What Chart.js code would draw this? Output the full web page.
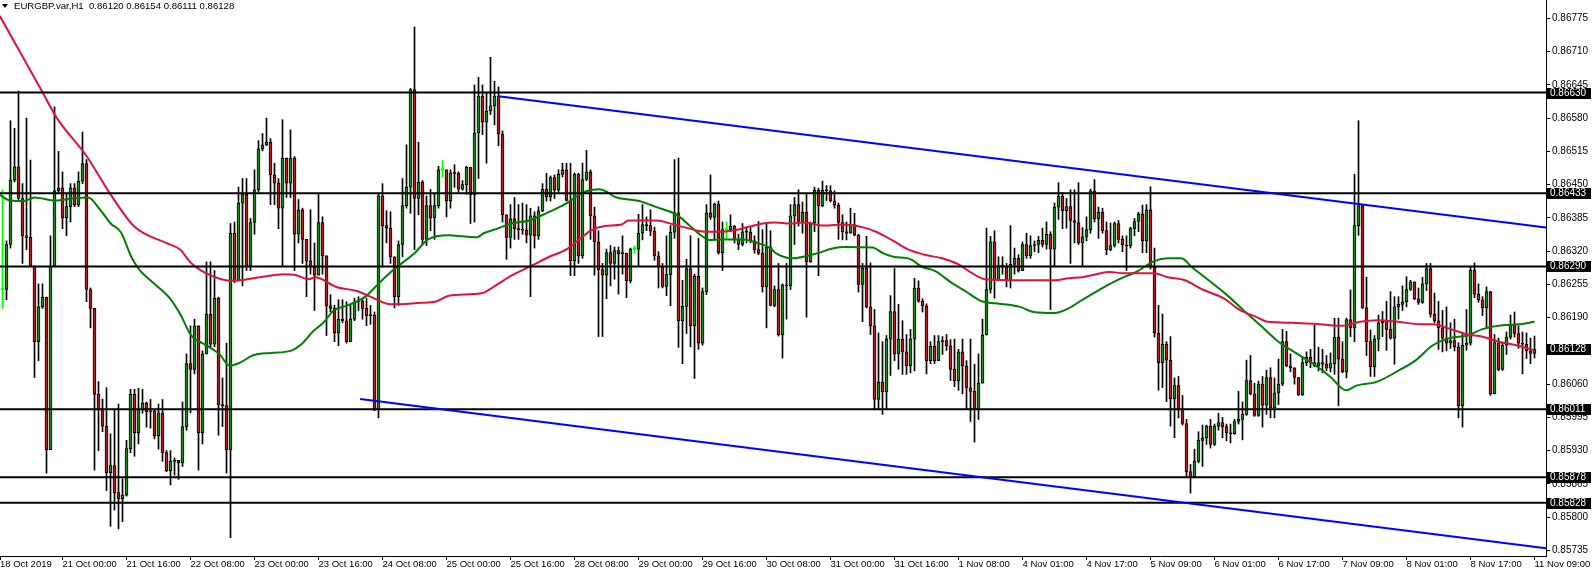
<!DOCTYPE html>
<html>
<head>
<meta charset="utf-8">
<script src="https://cdn.jsdelivr.net/npm/chart.js@4.4.1/dist/chart.umd.min.js"></script>
<style>
  html, body { margin: 0; padding: 0; background: #fff; }
  #wrap { position: relative; width: 1592px; height: 573px; }
  #tri { position: absolute; left: 2px; top: 4px; width: 0; height: 0;
         border-left: 3px solid transparent; border-right: 3px solid transparent; border-top: 4px solid #000; }
  #title { position: absolute; left: 14px; top: 0; font: 9.6px "Liberation Sans", Arial, sans-serif;
           color: #000; white-space: pre; line-height: 12px; }
</style>
</head>
<body>
<div id="wrap">
  <canvas id="chart" width="1592" height="573"></canvas>
  <div id="tri"></div>
  <div id="title">EURGBP.var,H1  0.86120 0.86154 0.86111 0.86128</div>
</div>
<script>
// H1 candles (open = previous close)
const firstOpen = 0.86245;
const closes = [
  0.86245,0.86333,0.86459,0.86485,0.86423,0.86350,0.86347,0.86291,0.86143,0.86211,
  0.86230,0.85932,0.86291,0.86438,0.86444,0.86385,0.86407,0.86444,0.86411,0.86457,
  0.86491,0.86245,0.86208,0.86040,0.86011,0.85978,0.85887,0.85901,0.85848,0.85836,
  0.85843,0.85934,0.86040,0.85965,0.86011,0.86023,0.86006,0.86008,0.85959,0.86004,
  0.85926,0.85891,0.85909,0.85911,0.85906,0.85977,0.86100,0.86089,0.86174,0.85965,
  0.86119,0.86197,0.86138,0.86228,0.86020,0.86018,0.85932,0.86355,0.86262,0.86414,
  0.86431,0.86289,0.86376,0.86440,0.86520,0.86528,0.86533,0.86469,0.86453,0.86404,
  0.86502,0.86453,0.86502,0.86353,0.86401,0.86343,0.86301,0.86289,0.86273,0.86376,
  0.86311,0.86213,0.86208,0.86160,0.86187,0.86184,0.86143,0.86187,0.86221,0.86222,
  0.86208,0.86194,0.86195,0.86011,0.86428,0.86370,0.86365,0.86309,0.86231,0.86333,
  0.86409,0.86445,0.86636,0.86423,0.86455,0.86343,0.86409,0.86385,0.86409,0.86479,
  0.86479,0.86418,0.86473,0.86472,0.86441,0.86450,0.86484,0.86430,0.86551,0.86623,
  0.86572,0.86594,0.86604,0.86623,0.86549,0.86391,0.86347,0.86383,0.86364,0.86362,
  0.86361,0.86351,0.86389,0.86350,0.86399,0.86441,0.86426,0.86464,0.86439,0.86470,
  0.86479,0.86419,0.86301,0.86470,0.86311,0.86460,0.86475,0.86389,0.86338,0.86284,
  0.86273,0.86317,0.86296,0.86321,0.86315,0.86316,0.86262,0.86324,0.86324,0.86355,
  0.86372,0.86370,0.86359,0.86311,0.86290,0.86251,0.86274,0.86357,0.86395,0.86184,
  0.86212,0.86286,0.86174,0.86271,0.86140,0.86241,0.86395,0.86386,0.86412,0.86317,
  0.86362,0.86362,0.86369,0.86343,0.86333,0.86358,0.86357,0.86340,0.86323,0.86316,
  0.86250,0.86328,0.86214,0.86245,0.86156,0.86254,0.86252,0.86389,0.86411,0.86378,
  0.86396,0.86299,0.86375,0.86439,0.86409,0.86439,0.86438,0.86418,0.86410,0.86376,
  0.86358,0.86355,0.86372,0.86351,0.86255,0.86287,0.86211,0.86174,0.86030,0.86064,
  0.86045,0.86148,0.86202,0.86119,0.86148,0.86123,0.86096,0.86148,0.86248,0.86222,
  0.86213,0.86106,0.86134,0.86106,0.86143,0.86145,0.86135,0.86089,0.86067,0.86123,
  0.86096,0.86053,0.86046,0.86011,0.86062,0.86156,0.86245,0.86338,0.86263,0.86292,
  0.86291,0.86263,0.86294,0.86306,0.86282,0.86333,0.86311,0.86331,0.86333,0.86341,
  0.86333,0.86353,0.86324,0.86406,0.86427,0.86399,0.86407,0.86380,0.86376,0.86336,
  0.86348,0.86362,0.86438,0.86383,0.86396,0.86360,0.86323,0.86331,0.86374,0.86343,
  0.86332,0.86330,0.86364,0.86378,0.86393,0.86340,0.86401,0.86289,0.86160,0.86102,
  0.86138,0.86107,0.86031,0.86057,0.86011,0.85983,0.85889,0.85879,0.85909,0.85950,
  0.85955,0.85978,0.85942,0.85978,0.85985,0.85977,0.85965,0.85963,0.85987,0.85991,
  0.86001,0.86067,0.86041,0.85999,0.86060,0.86019,0.86073,0.86014,0.86043,0.86060,
  0.86143,0.86096,0.86092,0.86073,0.86039,0.86102,0.86113,0.86102,0.86096,0.86102,
  0.86099,0.86091,0.86100,0.86152,0.86109,0.86084,0.86186,0.86170,0.86370,0.86409,
  0.86209,0.86143,0.86094,0.86148,0.86180,0.86184,0.86167,0.86150,0.86211,0.86216,
  0.86221,0.86245,0.86260,0.86227,0.86220,0.86256,0.86286,0.86197,0.86184,0.86170,
  0.86150,0.86140,0.86145,0.86133,0.86018,0.86136,0.86140,0.86283,0.86236,0.86225,
  0.86209,0.86241,0.86041,0.86141,0.86089,0.86136,0.86152,0.86177,0.86159,0.86140,
  0.86138,0.86125,0.86120,0.86128
];
const highs = [
  0.86439,0.86340,0.86575,0.86560,0.86633,0.86452,0.86580,0.86498,0.86291,0.86256,
  0.86256,0.86230,0.86350,0.86602,0.86515,0.86475,0.86431,0.86452,0.86452,0.86475,
  0.86553,0.86499,0.86248,0.86206,0.86065,0.86031,0.86053,0.85963,0.86011,0.86021,
  0.85875,0.85950,0.86050,0.86050,0.86052,0.86050,0.86025,0.86030,0.86011,0.86021,
  0.86030,0.85930,0.85930,0.85916,0.85911,0.86025,0.86119,0.86174,0.86187,0.86174,
  0.86125,0.86299,0.86299,0.86282,0.86230,0.86072,0.86140,0.86374,0.86377,0.86445,
  0.86462,0.86462,0.86384,0.86479,0.86536,0.86550,0.86580,0.86540,0.86492,0.86462,
  0.86577,0.86502,0.86557,0.86505,0.86421,0.86404,0.86343,0.86401,0.86336,0.86431,
  0.86387,0.86311,0.86235,0.86214,0.86225,0.86225,0.86221,0.86214,0.86228,0.86231,
  0.86228,0.86228,0.86214,0.86201,0.86431,0.86452,0.86399,0.86397,0.86309,0.86340,
  0.86462,0.86528,0.86638,0.86758,0.86533,0.86458,0.86428,0.86441,0.86431,0.86486,
  0.86497,0.86479,0.86479,0.86489,0.86475,0.86458,0.86486,0.86482,0.86645,0.86660,
  0.86645,0.86631,0.86699,0.86652,0.86641,0.86555,0.86391,0.86411,0.86425,0.86411,
  0.86414,0.86411,0.86404,0.86397,0.86407,0.86452,0.86472,0.86467,0.86469,0.86479,
  0.86492,0.86492,0.86492,0.86473,0.86472,0.86492,0.86517,0.86479,0.86406,0.86360,
  0.86296,0.86324,0.86331,0.86328,0.86328,0.86350,0.86316,0.86326,0.86330,0.86392,
  0.86411,0.86387,0.86401,0.86367,0.86319,0.86296,0.86350,0.86370,0.86499,0.86502,
  0.86263,0.86304,0.86350,0.86275,0.86345,0.86248,0.86411,0.86469,0.86414,0.86418,
  0.86377,0.86377,0.86391,0.86370,0.86353,0.86374,0.86365,0.86367,0.86350,0.86378,
  0.86362,0.86374,0.86360,0.86252,0.86296,0.86256,0.86296,0.86411,0.86425,0.86440,
  0.86416,0.86431,0.86377,0.86445,0.86443,0.86457,0.86448,0.86448,0.86438,0.86414,
  0.86391,0.86377,0.86404,0.86394,0.86353,0.86296,0.86349,0.86297,0.86206,0.86160,
  0.86143,0.86155,0.86233,0.86286,0.86216,0.86184,0.86157,0.86167,0.86267,0.86262,
  0.86227,0.86217,0.86143,0.86155,0.86155,0.86153,0.86157,0.86147,0.86148,0.86128,
  0.86148,0.86106,0.86148,0.86099,0.86119,0.86187,0.86365,0.86349,0.86360,0.86309,
  0.86309,0.86296,0.86370,0.86326,0.86313,0.86338,0.86355,0.86350,0.86340,0.86349,
  0.86365,0.86377,0.86358,0.86414,0.86454,0.86435,0.86423,0.86440,0.86440,0.86454,
  0.86366,0.86387,0.86441,0.86460,0.86406,0.86404,0.86377,0.86375,0.86377,0.86380,
  0.86350,0.86350,0.86367,0.86384,0.86396,0.86410,0.86411,0.86446,0.86326,0.86214,
  0.86197,0.86143,0.86153,0.86072,0.86075,0.86038,0.85991,0.85903,0.85933,0.85967,
  0.85980,0.85980,0.85991,0.85982,0.86003,0.85995,0.85982,0.85982,0.85991,0.86046,
  0.86025,0.86107,0.86116,0.86062,0.86066,0.86075,0.86087,0.86092,0.86072,0.86109,
  0.86167,0.86163,0.86119,0.86092,0.86073,0.86113,0.86123,0.86128,0.86175,0.86132,
  0.86128,0.86116,0.86121,0.86189,0.86189,0.86143,0.86189,0.86244,0.86470,0.86575,
  0.86411,0.86269,0.86166,0.86155,0.86195,0.86202,0.86222,0.86241,0.86231,0.86231,
  0.86252,0.86270,0.86263,0.86260,0.86248,0.86269,0.86296,0.86296,0.86238,0.86222,
  0.86204,0.86211,0.86180,0.86187,0.86141,0.86160,0.86206,0.86289,0.86297,0.86256,
  0.86231,0.86250,0.86241,0.86157,0.86150,0.86140,0.86162,0.86195,0.86201,0.86174,
  0.86162,0.86160,0.86150,0.86154
];
const lows = [
  0.86208,0.86225,0.86326,0.86455,0.86418,0.86296,0.86323,0.86289,0.86073,0.86106,
  0.86208,0.85886,0.85932,0.86313,0.86435,0.86364,0.86350,0.86377,0.86407,0.86407,
  0.86452,0.86221,0.86170,0.85892,0.85930,0.85967,0.85852,0.85782,0.85814,0.85777,
  0.85791,0.85841,0.85926,0.85919,0.85943,0.86003,0.85976,0.85974,0.85953,0.85933,
  0.85909,0.85889,0.85863,0.85882,0.85874,0.85899,0.85970,0.86004,0.86080,0.85892,
  0.85943,0.86119,0.86133,0.86133,0.85960,0.85977,0.85886,0.85760,0.86258,0.86262,
  0.86252,0.86282,0.86282,0.86353,0.86435,0.86516,0.86526,0.86411,0.86411,0.86364,
  0.86292,0.86425,0.86425,0.86282,0.86336,0.86296,0.86231,0.86275,0.86204,0.86275,
  0.86275,0.86155,0.86201,0.86143,0.86135,0.86180,0.86140,0.86143,0.86184,0.86204,
  0.86187,0.86174,0.86177,0.86008,0.85994,0.86289,0.86336,0.86296,0.86209,0.86214,
  0.86309,0.86404,0.86394,0.86323,0.86391,0.86333,0.86331,0.86360,0.86343,0.86404,
  0.86465,0.86387,0.86404,0.86445,0.86435,0.86439,0.86431,0.86374,0.86377,0.86462,
  0.86548,0.86492,0.86587,0.86567,0.86526,0.86377,0.86304,0.86326,0.86343,0.86343,
  0.86353,0.86336,0.86231,0.86326,0.86343,0.86397,0.86418,0.86418,0.86423,0.86435,
  0.86465,0.86418,0.86272,0.86272,0.86296,0.86306,0.86458,0.86343,0.86273,0.86153,
  0.86153,0.86227,0.86252,0.86265,0.86236,0.86275,0.86229,0.86258,0.86316,0.86292,
  0.86342,0.86360,0.86350,0.86302,0.86248,0.86248,0.86233,0.86213,0.86345,0.86132,
  0.86100,0.86159,0.86133,0.86071,0.86128,0.86136,0.86235,0.86382,0.86343,0.86314,
  0.86282,0.86343,0.86362,0.86336,0.86323,0.86330,0.86336,0.86336,0.86316,0.86313,
  0.86240,0.86170,0.86213,0.86211,0.86154,0.86111,0.86187,0.86245,0.86333,0.86369,
  0.86355,0.86191,0.86298,0.86358,0.86272,0.86407,0.86419,0.86416,0.86404,0.86343,
  0.86342,0.86342,0.86355,0.86350,0.86240,0.86182,0.86209,0.86157,0.86012,0.86012,
  0.86001,0.86012,0.86077,0.86106,0.86089,0.86079,0.86079,0.86082,0.86086,0.86220,
  0.86201,0.86080,0.86100,0.86100,0.86106,0.86118,0.86126,0.86067,0.86055,0.86048,
  0.86041,0.86012,0.85987,0.85947,0.85991,0.86062,0.86157,0.86238,0.86228,0.86262,
  0.86275,0.86250,0.86248,0.86275,0.86279,0.86282,0.86306,0.86306,0.86319,0.86317,
  0.86328,0.86324,0.86206,0.86290,0.86382,0.86364,0.86365,0.86296,0.86336,0.86333,
  0.86292,0.86340,0.86355,0.86377,0.86345,0.86355,0.86313,0.86321,0.86328,0.86336,
  0.86319,0.86282,0.86326,0.86350,0.86358,0.86317,0.86317,0.86285,0.86152,0.86048,
  0.86053,0.86026,0.85978,0.85955,0.85994,0.85980,0.85879,0.85847,0.85877,0.85906,
  0.85899,0.85942,0.85935,0.85940,0.85970,0.85955,0.85949,0.85945,0.85962,0.85982,
  0.85951,0.85999,0.86039,0.85997,0.85997,0.85976,0.86001,0.85994,0.85994,0.86020,
  0.86057,0.86094,0.86084,0.86060,0.86038,0.86038,0.86096,0.86092,0.86094,0.86086,
  0.86082,0.86086,0.86084,0.86079,0.86018,0.86082,0.86072,0.86153,0.86143,0.86351,
  0.86208,0.86116,0.86075,0.86075,0.86125,0.86153,0.86126,0.86148,0.86099,0.86187,
  0.86204,0.86211,0.86243,0.86225,0.86216,0.86218,0.86243,0.86191,0.86180,0.86128,
  0.86123,0.86125,0.86130,0.86125,0.85994,0.85976,0.86126,0.86136,0.86229,0.86220,
  0.86194,0.86172,0.86038,0.86041,0.86086,0.86087,0.86118,0.86148,0.86152,0.86130,
  0.86080,0.86110,0.86100,0.86111
];

// moving averages (bar index, price)
const redMaIdx = [-0.7,9.7,13.6,21,27,33.1,40.9,44.4,47,52.2,57.4,64.3,70.4,73,76.5,78.2,83.4,88.6,92,97,
  104.7,108.1,111.6,117.7,120.3,123.7,127.2,132.4,136.7,141.1,145,147,150.5,154.8,156.5,163.5,167.8,170.4,
  175.6,179,182.5,186.8,190,193.3,196.8,200.2,205.4,210.6,214.9,218.4,222.7,226.2,230.5,234.9,239,241.4,
  245.7,254.4,263,266.5,270,273.5,276.9,280.4,287.8,291.3,295.6,300,305.2,309.5,313,316.4,322.5,329.4,335,
  339.4,343.7,348.9,354.2,357.6,361.1,366.3,369.8,374,378.4,383];
const redMaVal = [0.86780,0.86635,0.86580,0.86506,0.86431,0.86367,0.86336,0.86323,0.86298,0.86272,0.86262,
  0.86269,0.86275,0.86274,0.86265,0.86269,0.86250,0.86242,0.86231,0.86216,0.86219,0.86221,0.86233,0.86236,
  0.86239,0.86255,0.86272,0.86292,0.86309,0.86324,0.86348,0.86360,0.86369,0.86372,0.86380,0.86380,0.86372,
  0.86367,0.86358,0.86358,0.86360,0.86368,0.86374,0.86376,0.86374,0.86376,0.86370,0.86372,0.86367,0.86358,
  0.86340,0.86324,0.86313,0.86306,0.86294,0.86282,0.86265,0.86263,0.86263,0.86267,0.86269,0.86275,0.86279,
  0.86277,0.86277,0.86269,0.86263,0.86245,0.86228,0.86204,0.86193,0.86182,0.86180,0.86177,0.86174,0.86182,
  0.86185,0.86182,0.86177,0.86177,0.86170,0.86157,0.86153,0.86143,0.86136,0.86126];
const greenMaIdx = [-0.7,1.9,5.4,8,13.2,17.5,21.4,24.4,27.05,29.6,32.2,34,38.3,41.8,44.4,47.2,50,51.6,54.2,
  56.8,59.4,62.5,67.2,72,75,77.6,80.2,82.8,86.3,90.7,94.2,97.8,103,106.4,111.6,115.1,118.6,120.3,123.7,127.2,
  131.6,135.9,141.1,145.2,149.2,151.3,153.1,159.2,163.5,167.8,169.6,172.2,174.8,176.6,180,185.2,188.7,192,
  193.3,197.6,203.7,208,210.6,217.5,220.1,222.7,227.1,229.7,233.2,237.3,240.5,244.8,248.3,254.4,257.8,263,
  266.5,270,274.3,278.6,283.8,287.8,291.3,294.7,297.3,301.7,306,310.3,314.6,319,323.3,327.6,332,335.9,338.5,
  343.7,348.9,353.2,357.6,361.9,366.3,369.8,374.9,379.2,383];
const greenMaVal = [0.86430,0.86419,0.86418,0.86425,0.86419,0.86423,0.86425,0.86401,0.86374,0.86357,0.86309,
  0.86286,0.86254,0.86228,0.86197,0.86155,0.86140,0.86133,0.86119,0.86096,0.86102,0.86116,0.86121,0.86125,
  0.86140,0.86163,0.86180,0.86204,0.86214,0.86231,0.86258,0.86284,0.86316,0.86343,0.86351,0.86349,0.86347,
  0.86355,0.86364,0.86374,0.86380,0.86394,0.86414,0.86435,0.86441,0.86435,0.86426,0.86418,0.86406,0.86394,
  0.86385,0.86367,0.86350,0.86342,0.86343,0.86343,0.86336,0.86326,0.86316,0.86306,0.86316,0.86326,0.86328,
  0.86327,0.86316,0.86309,0.86304,0.86290,0.86281,0.86258,0.86243,0.86222,0.86218,0.86211,0.86201,0.86199,
  0.86208,0.86225,0.86245,0.86263,0.86281,0.86300,0.86306,0.86306,0.86289,0.86262,0.86235,0.86204,0.86174,
  0.86143,0.86121,0.86100,0.86074,0.86048,0.86057,0.86065,0.86086,0.86106,0.86136,0.86150,0.86155,0.86167,
  0.86175,0.86177,0.86182];

// channel lines and horizontal levels
const upperTrendIdx = [124, 385.875];
const upperTrendVal = [0.86623, 0.86366];
const lowerTrendIdx = [89.4, 385.875];
const lowerTrendVal = [0.86031, 0.85739];
const levels = [0.86630, 0.86433, 0.86290, 0.86011, 0.85878, 0.85828];
const currentPrice = 0.86128;

// axis ticks
const yTickValues = [0.86775,0.86710,0.86645,0.86580,0.86515,0.86450,0.86385,0.86320,0.86255,
  0.86190,0.86125,0.86060,0.85995,0.85930,0.85865,0.85800,0.85735];
const xTickPos = [-0.625,15,31,47,63,79,95,111,127,143,159,175,191,207,223,239,255,271,287,303,319,335,351,367,383];
const xTickLabels = ["18 Oct 2019","21 Oct 00:00","21 Oct 16:00","22 Oct 08:00","23 Oct 00:00","23 Oct 16:00",
  "24 Oct 08:00","25 Oct 00:00","25 Oct 16:00","28 Oct 08:00","29 Oct 00:00","29 Oct 16:00","30 Oct 08:00",
  "31 Oct 00:00","31 Oct 16:00","1 Nov 08:00","4 Nov 01:00","4 Nov 17:00","5 Nov 09:00","6 Nov 01:00",
  "6 Nov 17:00","7 Nov 09:00","8 Nov 01:00","8 Nov 17:00","11 Nov 09:00"];

const X_MIN = -0.625, X_MAX = 385.875;
const opens = closes.map((c, i) => i === 0 ? firstOpen : closes[i - 1]);
const isDoji = i => opens[i] === closes[i];

const wickData = closes.map((c, i) => ({
  x: i, y: [Math.min(lows[i], opens[i], c), Math.max(highs[i], opens[i], c)]
}));
const bodyData = closes.map((c, i) => ({ x: i, y: [opens[i], c] }));
const pts = (xs, ys) => xs.map((x, i) => ({ x: x, y: ys[i] }));

const levelSets = levels.map(v => ({
  type: "line", data: pts([X_MIN, X_MAX], [v, v]), borderColor: "#000", borderWidth: 2,
  pointRadius: 0, order: 1
}));

Chart.defaults.font.family = '"Liberation Sans", Arial, sans-serif';
Chart.defaults.color = "#000";

const priceTags = {
  id: "priceTags",
  afterDraw(chart) {
    const { ctx, chartArea, scales } = chart;
    ctx.save();
    ctx.font = '10px "Liberation Sans", Arial, sans-serif';
    ctx.textBaseline = "middle";
    ctx.textAlign = "left";
    levels.concat([currentPrice]).forEach(v => {
      const py = Math.round(scales.y.getPixelForValue(v));
      ctx.fillStyle = "#000";
      ctx.fillRect(chartArea.right + 1, py - 5, 44, 11);
      ctx.fillStyle = "#fff";
      ctx.fillText(v.toFixed(5), chartArea.right + 4, py + 0.5);
    });
    ctx.restore();
  }
};

new Chart(document.getElementById("chart").getContext("2d"), {
  type: "bar",
  data: {
    datasets: [
      {
        label: "wicks", data: wickData, grouped: false, barThickness: 1, order: 4,
        backgroundColor: c => isDoji(c.dataIndex) ? "#00ff00" : "#000", borderWidth: 0
      },
      {
        label: "bodies", data: bodyData, grouped: false, barThickness: 3, order: 3, minBarLength: 1,
        borderSkipped: false,
        backgroundColor: c => {
          const i = c.dataIndex;
          if (isDoji(i)) return "#00ff00";
          return closes[i] > opens[i] ? "#228b22" : "#b22222";
        },
        borderColor: "#000",
        borderWidth: c => isDoji(c.dataIndex) ? 0 : 1
      },
      {
        type: "line", label: "MA red", data: pts(redMaIdx, redMaVal), borderColor: "#dc143c",
        borderWidth: 2, pointRadius: 0, cubicInterpolationMode: "monotone", order: 2
      },
      {
        type: "line", label: "MA green", data: pts(greenMaIdx, greenMaVal), borderColor: "#008000",
        borderWidth: 2, pointRadius: 0, cubicInterpolationMode: "monotone", order: 2
      },
      {
        type: "line", label: "upper", data: pts(upperTrendIdx, upperTrendVal), borderColor: "#0000ff",
        borderWidth: 2, pointRadius: 0, order: 1
      },
      {
        type: "line", label: "lower", data: pts(lowerTrendIdx, lowerTrendVal), borderColor: "#0000ff",
        borderWidth: 2, pointRadius: 0, order: 1
      },
      ...levelSets
    ]
  },
  options: {
    responsive: false,
    animation: false,
    layout: { padding: 0 },
    plugins: { legend: { display: false }, tooltip: { enabled: false } },
    scales: {
      x: {
        type: "linear", min: X_MIN, max: X_MAX, offset: false,
        grid: { offset: false, drawOnChartArea: false, drawTicks: true, tickLength: 4, color: "#000" },
        border: { display: true, color: "#000", width: 1 },
        afterBuildTicks: s => { s.ticks = xTickPos.map(v => ({ value: v })); },
        afterFit: s => { s.height = 17; s.paddingLeft = 0; s.paddingRight = 0; },
        ticks: {
          autoSkip: false, maxRotation: 0, minRotation: 0, align: "start", padding: -1,
          font: { size: 9.5 },
          callback: (v, i) => xTickLabels[i]
        }
      },
      y: {
        position: "right", min: 0.85724, max: 0.86811, beginAtZero: false,
        grid: { drawOnChartArea: false, drawTicks: true, tickLength: 4, color: "#000" },
        border: { display: true, color: "#000", width: 1 },
        afterBuildTicks: s => { s.ticks = yTickValues.map(v => ({ value: v })); },
        afterFit: s => { s.width = 46; s.paddingTop = 0; s.paddingBottom = 0; },
        ticks: { padding: 2, font: { size: 10 }, callback: v => v.toFixed(5) }
      }
    }
  },
  plugins: [priceTags]
});
</script>
</body>
</html>
